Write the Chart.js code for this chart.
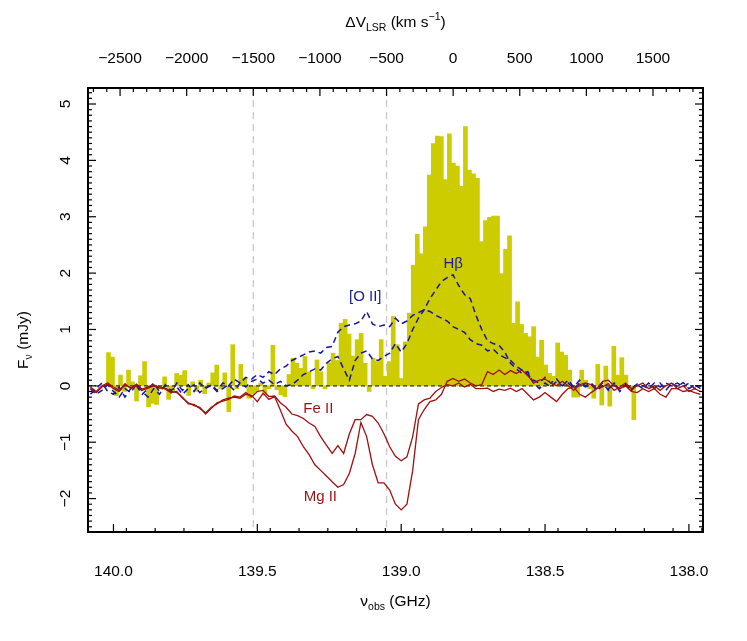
<!DOCTYPE html>
<html>
<head>
<meta charset="utf-8">
<script src="https://cdn.jsdelivr.net/npm/chart.js@4.4.0/dist/chart.umd.min.js"></script>
<style>
  html, body { margin: 0; padding: 0; background: #fff; }
</style>
</head>
<body>
<canvas id="spec" width="747" height="641"></canvas>
<script>
// CO spectrum (mJy), one value per channel, from high to low frequency
const coFreqStart = 140.0174;   // GHz, centre of first channel
const coChanWidth = 0.01394;    // GHz
const coFlux = [
  0.59, 0.51, -0.17, 0.19, -0.10, 0.28, 0.07, -0.27, 0.18, 0.43,
  -0.37, -0.31, -0.33, -0.05, 0.16, -0.24, -0.10, 0.22, 0.19, 0.27,
  -0.17, 0.07, -0.10, 0.10, -0.14, 0.05, 0.23, 0.37, -0.05, 0.23,
  -0.46, 0.73, -0.05, 0.38, 0.13, -0.22, -0.14, -0.10, 0.05, -0.17,
  -0.05, 0.72, -0.07, -0.16, -0.19, 0.20, 0.49, 0.40, 0.31, 0.52,
  0.25, -0.05, 0.46, 0.25, -0.05, 0.41, 0.58, 0.45, 1.11, 1.18,
  0.92, 0.53, 0.82, 0.93, 0.40, -0.10, 0.49, 0.43, 0.82, 0.17,
  0.43, 1.23, 0.73, 0.13, 0.78, 1.29, 2.14, 2.69, 2.34, 2.82,
  3.74, 4.30, 4.43, 4.42, 3.66, 4.47, 3.95, 3.90, 3.54, 4.60,
  3.83, 3.76, 3.68, 2.56, 2.93, 2.99, 3.01, 3.01, 1.99, 2.42,
  2.66, 1.11, 1.49, 1.09, 0.93, 0.87, 1.05, 0.51, 0.81, 0.37,
  0.22, 0.17, 0.76, 0.60, 0.54, 0.28, -0.20, -0.20, 0.28, 0.10,
  -0.05, -0.22, 0.38, -0.34, 0.35, -0.36, 0.70, 0.19, 0.50, 0.19,
  -0.05, -0.60
];

// template profiles, sampled every 0.02 GHz from 140.08 GHz down
const lineFreqStart = 140.08;
const lineStep = 0.02;
const oiiFlux = [
  -0.15, -0.05, 0.05, -0.10, -0.15, -0.02, -0.20, -0.05, 0.00, -0.15,
  -0.05, 0.05, -0.10, 0.00, -0.12, 0.05, -0.08, 0.02, -0.10, 0.05,
  -0.05, 0.02, -0.08, 0.05, 0.00, 0.12, 0.05, 0.15, 0.12, 0.20,
  0.15, 0.25, 0.20, 0.30, 0.35, 0.45, 0.50, 0.55, 0.60, 0.62,
  0.58, 0.68, 0.70, 0.95, 1.05, 1.08, 1.10, 1.15, 1.32, 1.10,
  1.05, 1.08, 1.05, 1.20, 1.10, 1.15, 1.25, 1.30, 1.35, 1.32,
  1.25, 1.20, 1.15, 1.05, 1.00, 0.95, 0.82, 0.75, 0.72, 0.62,
  0.65, 0.55, 0.50, 0.45, 0.35, 0.28, 0.20, 0.10, 0.05, 0.15,
  0.05, 0.12, 0.00, 0.10, -0.02, 0.10, 0.00, 0.05, -0.05, 0.05,
  -0.08, 0.05, -0.10, 0.02, -0.08, 0.02, -0.05, 0.05, -0.05, 0.05,
  -0.08, 0.05, -0.02, 0.06, -0.05, 0.02, -0.05
];
const hbFlux = [
  -0.05, -0.15, -0.08, 0.02, -0.10, -0.20, -0.05, -0.12, 0.03, -0.10,
  -0.20, -0.05, -0.15, 0.02, -0.08, -0.02, -0.15, -0.05, 0.02, -0.12,
  -0.03, 0.00, -0.10, -0.05, 0.02, -0.08, 0.05, -0.02, 0.08, 0.12,
  0.05, 0.10, 0.02, 0.08, 0.00, 0.02, 0.10, 0.20, 0.25, 0.30,
  0.28, 0.40, 0.48, 0.52, 0.30, 0.10, 0.45, 0.58, 0.62, 0.48,
  0.45, 0.52, 0.58, 0.75, 0.60, 0.75, 1.00, 1.20, 1.35, 1.55,
  1.70, 1.85, 1.92, 1.97, 1.78, 1.62, 1.55, 1.25, 1.00, 0.80,
  0.75, 0.72, 0.60, 0.40, 0.30, 0.22, 0.25, 0.05, -0.05, 0.05,
  -0.02, 0.08, 0.00, 0.05, -0.05, 0.05, -0.02, 0.02, -0.08, 0.00,
  -0.05, 0.02, -0.05, 0.00, -0.05, 0.03, 0.00, -0.05, 0.05, -0.02,
  0.05, 0.00, 0.05, -0.02, 0.05, -0.05, 0.00
];
const feiiFlux = [
  -0.05, -0.12, -0.02, 0.03, -0.05, -0.10, 0.02, -0.03, 0.01, -0.08,
  -0.04, 0.00, -0.02, -0.06, -0.12, -0.10, -0.22, -0.30, -0.35, -0.38,
  -0.50, -0.40, -0.30, -0.27, -0.24, -0.18, -0.20, -0.12, -0.20, -0.10,
  -0.08, -0.19, -0.18, -0.30, -0.38, -0.50, -0.53, -0.58, -0.66, -0.72,
  -0.90, -1.05, -1.20, -1.06, -1.20, -0.85, -0.60, -0.60, -0.51, -0.54,
  -0.66, -0.85, -1.08, -1.25, -1.33, -1.26, -0.90, -0.32, -0.25, -0.22,
  -0.10, -0.03, 0.02, 0.00, 0.05, -0.02, 0.03, -0.05, -0.05, -0.04,
  -0.10, -0.06, -0.08, -0.04, -0.10, -0.05, -0.15, -0.25, -0.20, -0.12,
  -0.20, -0.28, -0.15, -0.05, -0.02, -0.15, -0.20, -0.12, -0.05, 0.08,
  0.10, 0.00, -0.05, 0.00, -0.10, -0.12, -0.05, -0.10, -0.05, -0.15,
  -0.20, -0.05, -0.05, -0.10, -0.08, -0.12, -0.15
];
const mgiiFlux = [
  -0.02, -0.10, 0.00, 0.05, -0.02, -0.08, 0.04, -0.05, 0.03, -0.06,
  -0.02, 0.02, -0.04, -0.04, -0.10, -0.12, -0.20, -0.32, -0.33, -0.40,
  -0.48, -0.38, -0.32, -0.25, -0.22, -0.20, -0.22, -0.15, -0.17, -0.28,
  -0.13, -0.24, -0.19, -0.43, -0.68, -0.80, -0.90, -1.08, -1.22, -1.40,
  -1.50, -1.60, -1.70, -1.80, -1.75, -1.55, -1.20, -0.65, -0.90, -1.40,
  -1.72, -1.72, -1.85, -2.10, -2.20, -2.10, -1.50, -0.60, -0.42, -0.28,
  -0.25, -0.15, 0.08, 0.13, 0.08, 0.12, 0.05, 0.00, 0.02, 0.25,
  0.20, 0.28, 0.20, 0.27, 0.22, 0.28, 0.18, 0.05, 0.10, 0.12,
  0.05, 0.00, 0.08, 0.00, -0.08, 0.02, 0.05, 0.02, -0.05, -0.02,
  0.04, -0.08, -0.02, 0.05, -0.05, 0.00, 0.05, -0.05, 0.00, -0.08,
  0.00, 0.05, -0.05, 0.00, -0.10, -0.05, -0.10
];

// axes
const freqTicks = [138.0, 138.5, 139.0, 139.5, 140.0];
const velTicks = [-2500, -2000, -1500, -1000, -500, 0, 500, 1000, 1500];
const fluxTicks = [-2, -1, 0, 1, 2, 3, 4, 5];
const markerVels = [-1500, -500];
const lineLabels = [
  { text: '[O II]', f: 139.125, y: 1.57, color: '#1a1a96' },
  { text: 'H\u03b2', f: 138.819, y: 2.17, color: '#1a1a96' },
  { text: 'Fe II', f: 139.288, y: -0.40, color: '#9a1414' },
  { text: 'Mg II', f: 139.281, y: -1.97, color: '#9a1414' }
];

const C_KMS = 299792.458;
const REST_FREQ = 138.8194;
const F_LEFT = 140.0885, F_RIGHT = 137.951;
const toVel = f => C_KMS * (1 - f / REST_FREQ);
const FONT = "'Liberation Sans', Arial, Helvetica, sans-serif";
const minus = v => (v < 0 ? '\u2212' + Math.abs(v) : String(v));

const coPoints = coFlux.map((y, i) => ({ x: coFreqStart - i * coChanWidth, y }));
const toPoints = arr => arr.map((y, i) => ({ x: lineFreqStart - i * lineStep, y }));

// draws text pieces with sub/superscripts, centred on cx
function richText(ctx, parts, cx, baseY) {
  let w = 0;
  parts.forEach(p => { ctx.font = p.size + 'px ' + FONT; p.w = ctx.measureText(p.t).width; w += p.w; });
  let x = cx - w / 2;
  ctx.textAlign = 'left';
  ctx.textBaseline = 'alphabetic';
  parts.forEach(p => {
    ctx.font = p.size + 'px ' + FONT;
    ctx.fillText(p.t, x, baseY + (p.dy || 0));
    x += p.w;
  });
}

const decor = {
  id: 'decor',
  beforeDatasetsDraw(chart) {
    const { ctx, chartArea: a, scales } = chart;
    ctx.save();
    ctx.strokeStyle = '#c8c8c8';
    ctx.lineWidth = 1.3;
    ctx.setLineDash([7, 5]);
    markerVels.forEach(v => {
      const px = scales.x2.getPixelForValue(v);
      ctx.beginPath(); ctx.moveTo(px, a.top); ctx.lineTo(px, a.bottom); ctx.stroke();
    });
    ctx.restore();
  },
  afterDatasetsDraw(chart) {
    const { ctx, chartArea: a, scales } = chart;
    const tick = (x1, y1, x2, y2) => { ctx.beginPath(); ctx.moveTo(x1, y1); ctx.lineTo(x2, y2); ctx.stroke(); };
    ctx.save();
    ctx.strokeStyle = '#000';
    ctx.fillStyle = '#000';
    ctx.lineWidth = 1.2;

    // bottom ticks
    freqTicks.forEach(f => { const px = scales.x.getPixelForValue(f); tick(px, a.bottom, px, a.bottom - 8); });
    for (let k = 0; k < 22; k++) {
      const f = 139.955 - 0.1 * k;
      if (f < F_RIGHT) break;
      const px = scales.x.getPixelForValue(f);
      tick(px, a.bottom, px, a.bottom - 4);
    }
    // top ticks
    for (let v = -2700; v <= 1800; v += 100) {
      const px = scales.x2.getPixelForValue(v);
      if (px < a.left || px > a.right) continue;
      tick(px, a.top, px, a.top + (v % 500 === 0 ? 8 : 4));
    }
    // left / right ticks
    for (let k = -25; k <= 52; k++) {
      const py = scales.y.getPixelForValue(k / 10);
      const len = k % 10 === 0 ? 8 : 4;
      tick(a.left, py, a.left + len, py);
      tick(a.right, py, a.right - len, py);
    }
    // frame
    ctx.lineWidth = 2;
    ctx.strokeRect(a.left, a.top, a.right - a.left, a.bottom - a.top);

    // y tick labels, rotated as in the original
    ctx.font = '15.5px ' + FONT;
    ctx.textAlign = 'center';
    ctx.textBaseline = 'alphabetic';
    fluxTicks.forEach(v => {
      const py = scales.y.getPixelForValue(v);
      ctx.save();
      ctx.translate(69.5, py);
      ctx.rotate(-Math.PI / 2);
      ctx.fillText(minus(v), 0, 0);
      ctx.restore();
    });

    // axis titles
    const cx = (a.left + a.right) / 2;
    richText(ctx, [
      { t: '\u0394V', size: 15.5 },
      { t: 'LSR', size: 10.5, dy: 4 },
      { t: ' (km s', size: 15.5 },
      { t: '\u22121', size: 10.5, dy: -7 },
      { t: ')', size: 15.5 }
    ], cx, 27);
    richText(ctx, [
      { t: '\u03bd', size: 15.5 },
      { t: 'obs', size: 10.5, dy: 4 },
      { t: ' (GHz)', size: 15.5 }
    ], cx, 606);
    ctx.save();
    ctx.translate(28, 340);
    ctx.rotate(-Math.PI / 2);
    richText(ctx, [
      { t: 'F', size: 15.5 },
      { t: '\u03bd', size: 10.5, dy: 4 },
      { t: ' (mJy)', size: 15.5 }
    ], 0, 0);
    ctx.restore();

    // line labels
    ctx.font = '15px ' + FONT;
    ctx.textAlign = 'center';
    ctx.textBaseline = 'middle';
    lineLabels.forEach(l => {
      ctx.fillStyle = l.color;
      ctx.fillText(l.text, scales.x.getPixelForValue(l.f), scales.y.getPixelForValue(l.y));
    });
    ctx.restore();
  }
};

const config = {
  type: 'bar',
  data: {
    datasets: [
      {
        type: 'line', label: 'Mg II', data: toPoints(mgiiFlux),
        borderColor: '#a01010', borderWidth: 1.3, pointRadius: 0, tension: 0, order: 1
      },
      {
        type: 'line', label: 'Fe II', data: toPoints(feiiFlux),
        borderColor: '#a01010', borderWidth: 1.3, pointRadius: 0, tension: 0, order: 2
      },
      {
        type: 'line', label: '[O II]', data: toPoints(oiiFlux),
        borderColor: '#1616a0', borderWidth: 1.5, borderDash: [6, 4], pointRadius: 0, tension: 0, order: 3
      },
      {
        type: 'line', label: 'Hbeta', data: toPoints(hbFlux),
        borderColor: '#1616a0', borderWidth: 1.5, borderDash: [6, 4], pointRadius: 0, tension: 0, order: 4
      },
      {
        type: 'line', label: 'zero', data: [{ x: F_LEFT, y: 0 }, { x: F_RIGHT, y: 0 }],
        borderColor: '#333', borderWidth: 1.3, borderDash: [4, 3], pointRadius: 0, order: 5
      },
      {
        type: 'bar', label: 'CO', data: coPoints,
        backgroundColor: '#cccc00', borderWidth: 0,
        barPercentage: 1, categoryPercentage: 1, grouped: false, order: 10
      }
    ]
  },
  options: {
    responsive: false,
    animation: false,
    events: [],
    layout: { padding: { right: 44, left: 0, top: 0, bottom: 0 } },
    plugins: { legend: { display: false }, tooltip: { enabled: false } },
    scales: {
      x: {
        type: 'linear', position: 'bottom', reverse: true, offset: false,
        min: F_RIGHT, max: F_LEFT,
        grid: { display: false, drawTicks: false }, border: { display: false },
        afterBuildTicks: s => { s.ticks = freqTicks.map(v => ({ value: v })); },
        ticks: {
          padding: 30, color: '#000', font: { family: FONT, size: 15.5 },
          maxRotation: 0, autoSkip: false, callback: v => v.toFixed(1)
        },
        afterFit: s => { s.height = 109; }
      },
      x2: {
        type: 'linear', position: 'top', offset: false,
        min: toVel(F_LEFT), max: toVel(F_RIGHT),
        grid: { display: false, drawTicks: false }, border: { display: false },
        afterBuildTicks: s => { s.ticks = velTicks.map(v => ({ value: v })); },
        ticks: {
          padding: 20, color: '#000', font: { family: FONT, size: 15.5 },
          maxRotation: 0, autoSkip: false, callback: v => minus(v)
        },
        afterFit: s => { s.height = 88; }
      },
      y: {
        type: 'linear', position: 'left', min: -2.593, max: 5.284,
        grid: { display: false, drawTicks: false }, border: { display: false },
        ticks: { display: false },
        afterFit: s => { s.width = 88; }
      }
    }
  },
  plugins: [decor]
};

const spectrumChart = new Chart(document.getElementById('spec'), config);
</script>
</body>
</html>
